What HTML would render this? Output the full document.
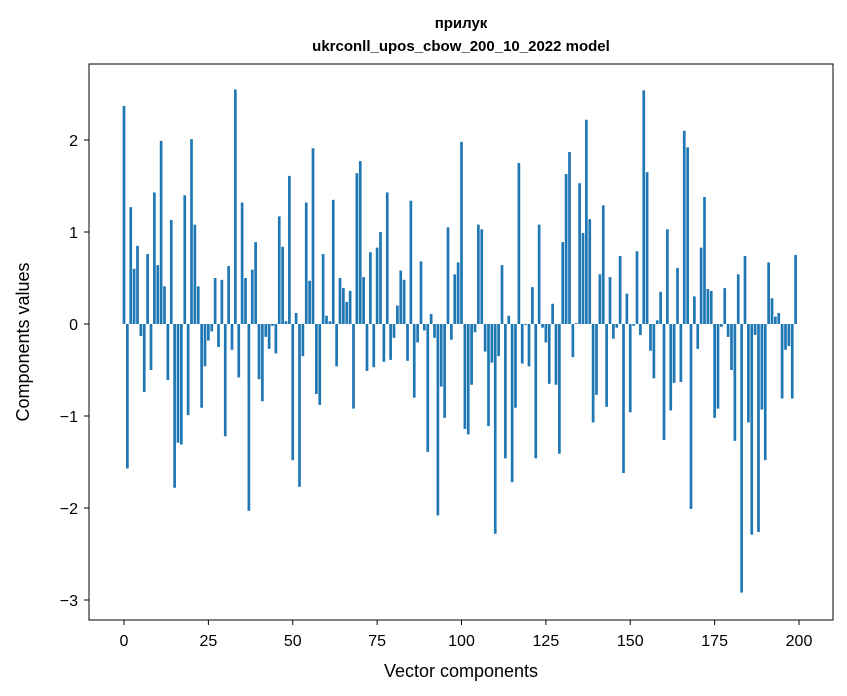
<!DOCTYPE html>
<html><head><meta charset="utf-8"><style>
body{margin:0;background:#fff;}
svg{display:block;font-family:"Liberation Sans","DejaVu Sans",sans-serif;}
</style></head><body>
<svg id="chart" width="847" height="696" viewBox="0 0 847 696" xmlns="http://www.w3.org/2000/svg">
<rect width="847" height="696" fill="#fff"/>
<text x="461" y="28" text-anchor="middle" font-size="15" font-weight="bold">прилук</text>
<text x="461" y="51" text-anchor="middle" font-size="15" font-weight="bold">ukrconll_upos_cbow_200_10_2022 model</text>
<g id="bars"></g>
<g id="axes"></g>
<rect x="89" y="64" width="744" height="556" fill="none" stroke="#000" stroke-width="1"/>
<text x="461" y="677" text-anchor="middle" font-size="18">Vector components</text>
<text transform="translate(29,342) rotate(-90)" text-anchor="middle" font-size="18">Components values</text>
</svg>
<script>
const values = [
2.37,-1.57,1.27,0.6,0.85,-0.13,-0.74,0.76,-0.5,1.43,
0.64,1.99,0.41,-0.61,1.13,-1.78,-1.29,-1.31,1.4,-0.99,
2.01,1.08,0.41,-0.91,-0.46,-0.18,-0.08,0.5,-0.25,0.48,
-1.22,0.63,-0.28,2.55,-0.58,1.32,0.5,-2.03,0.59,0.89,
-0.6,-0.84,-0.14,-0.27,-0.02,-0.32,1.17,0.84,0.03,1.61,
-1.48,0.12,-1.77,-0.35,1.32,0.47,1.91,-0.76,-0.88,0.76,
0.09,0.03,1.35,-0.46,0.5,0.39,0.24,0.36,-0.92,1.64,
1.77,0.51,-0.51,0.78,-0.47,0.83,1.0,-0.41,1.43,-0.39,
-0.15,0.2,0.58,0.48,-0.4,1.34,-0.8,-0.2,0.68,-0.07,
-1.39,0.11,-0.15,-2.08,-0.68,-1.02,1.05,-0.17,0.54,0.67,
1.98,-1.14,-1.2,-0.66,-0.09,1.08,1.03,-0.3,-1.11,-0.42,
-2.28,-0.35,0.64,-1.46,0.09,-1.72,-0.91,1.75,-0.43,-0.01,
-0.46,0.4,-1.46,1.08,-0.04,-0.2,-0.65,0.22,-0.66,-1.41,
0.89,1.63,1.87,-0.36,0.01,1.53,0.99,2.22,1.14,-1.07,
-0.77,0.54,1.29,-0.9,0.51,-0.16,-0.04,0.74,-1.62,0.33,
-0.96,-0.02,0.79,-0.12,2.54,1.65,-0.29,-0.59,0.04,0.35,
-1.26,1.03,-0.94,-0.64,0.61,-0.63,2.1,1.92,-2.01,0.3,
-0.27,0.83,1.38,0.38,0.36,-1.02,-0.92,-0.03,0.39,-0.14,
-0.5,-1.27,0.54,-2.92,0.74,-1.07,-2.29,-0.12,-2.26,-0.93,
-1.48,0.67,0.28,0.08,0.12,-0.81,-0.28,-0.24,-0.81,0.75
];
const xTicks = [0,25,50,75,100,125,150,175,200];
const yTicks = [-3,-2,-1,0,1,2];
const NS='http://www.w3.org/2000/svg';
const xs = i => 124 + 3.375*i;
const ys = v => 324 - 92*v;
const barsG=document.getElementById('bars');
values.forEach((v,i)=>{
  const r=document.createElementNS(NS,'rect');
  
  
  const y0=ys(0), y1=ys(v);
  r.setAttribute('x',xs(i)-1.35);
  r.setAttribute('width',2.7);
  r.setAttribute('y',Math.min(y0,y1));
  r.setAttribute('height',Math.abs(y1-y0));
  r.setAttribute('fill','#1f77b4');
  barsG.appendChild(r);
});
const ax=document.getElementById('axes');
xTicks.forEach(t=>{
  const l=document.createElementNS(NS,'line');
  
  
  l.setAttribute('x1',xs(t));l.setAttribute('x2',xs(t));
  l.setAttribute('y1',620);l.setAttribute('y2',625);
  l.setAttribute('stroke','#000');
  ax.appendChild(l);
  const tx=document.createElementNS(NS,'text');
  
  
  tx.setAttribute('x',xs(t));tx.setAttribute('y',646);
  tx.setAttribute('text-anchor','middle');tx.setAttribute('font-size','16');
  tx.textContent=String(t);
  ax.appendChild(tx);
});
yTicks.forEach(t=>{
  const l=document.createElementNS(NS,'line');
  
  
  l.setAttribute('x1',84);l.setAttribute('x2',89);
  l.setAttribute('y1',ys(t));l.setAttribute('y2',ys(t));
  l.setAttribute('stroke','#000');
  ax.appendChild(l);
  const tx=document.createElementNS(NS,'text');
  
  
  tx.setAttribute('x',78);tx.setAttribute('y',ys(t)+6);
  tx.setAttribute('text-anchor','end');tx.setAttribute('font-size','16');
  tx.textContent=t<0?'\u2212'+Math.abs(t):String(t);
  ax.appendChild(tx);
});
</script>
</body></html>
